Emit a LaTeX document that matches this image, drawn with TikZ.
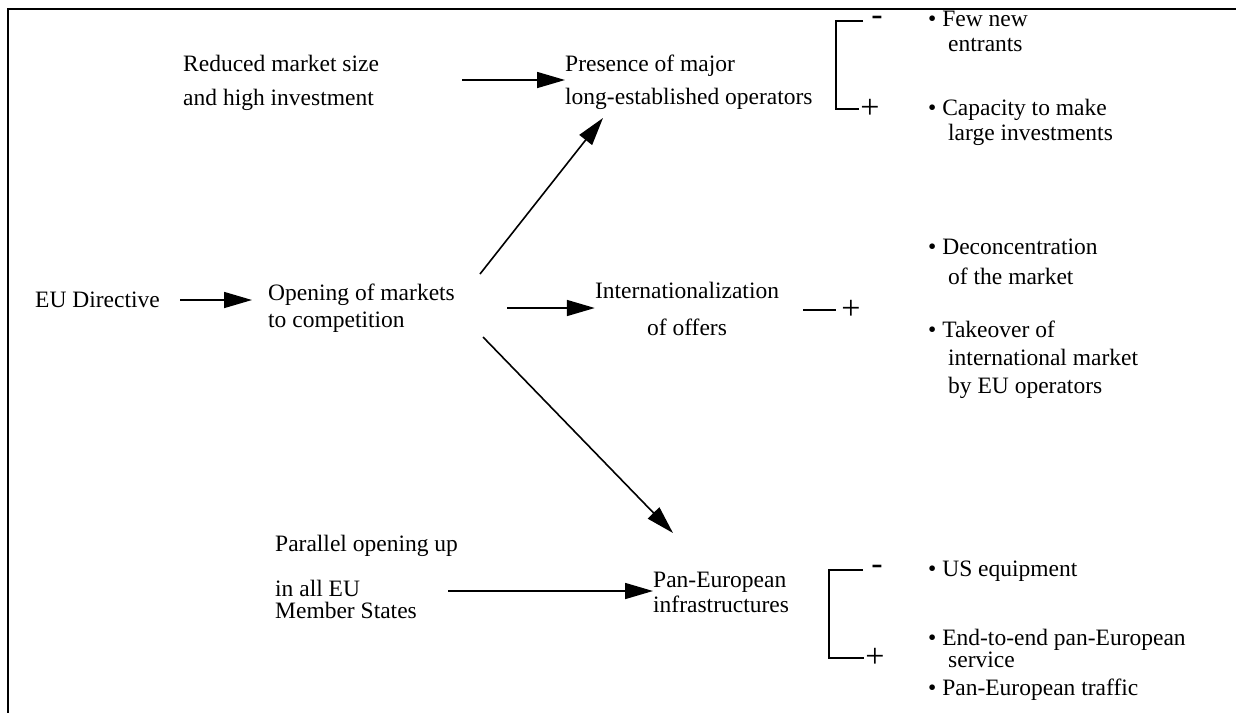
\documentclass[tikz,border=0pt]{standalone}
\usepackage{fontspec}
\setmainfont{Liberation Serif}
\usetikzlibrary{arrows.meta}
\begin{document}
\begin{tikzpicture}[x=1pt,y=-1pt,
  txt/.style={inner sep=0pt, anchor=base west, font=\fontsize{23.5}{28}\selectfont},
  ctxt/.style={txt, anchor=base},
  sign/.style={inner sep=0pt, font=\fontsize{34}{34}\selectfont},
  arr/.style={line width=1.6pt, -{Triangle[length=28pt,width=16pt]}},
  link/.style={line width=1.6pt},
  frame/.style={line width=2pt}]
\useasboundingbox (0,0) rectangle (1236,713);
% open frame: top and left rules
\draw[frame] (1236,9) -- (8,9) -- (8,713);

% --- upper row
\node[txt] (rm1) at (183,71) {Reduced market size};
\node[txt] (rm2) at (183,105) {and high investment};
\node[txt] (pr1) at (565,71) {Presence of major};
\node[txt] (pr2) at (565,104) {long-established operators};
\coordinate (a1s) at (462,80);
\draw[arr] (a1s) -- (a1s -| pr1.west);

% upper bracket
\node[sign] (tbm) at (877,21) {-};
\node[sign] (tbp) at (870,109) {+};
\coordinate (tbt) at (836,21);
\coordinate (tbb) at (836,109);
\draw[link] ([xshift=-8pt]tbm.west) -- (tbt) -- (tbb) -- ([xshift=-1pt]tbp.west |- tbb);

\node[txt] (fn1) at (928,26) {• Few new};
\node[txt] (fn2) at (948,51) {entrants};
\node[txt] (cp1) at (928,115) {• Capacity to make};
\node[txt] (cp2) at (948,140) {large investments};

% --- middle row
\node[txt] (eu) at (35,307) {EU Directive};
\node[txt] (op1) at (268,300) {Opening of markets};
\node[txt] (op2) at (268,327) {to competition};
\coordinate (a2s) at (180,300);
\draw[arr] (a2s) -- ([xshift=-16pt]a2s -| op1.west);

\coordinate (a3s) at (480,274);
\coordinate (a3e) at (603,118);
\draw[arr] (a3s) -- (a3e);

\node[ctxt] (in1) at (687,298) {Internationalization};
\node[ctxt] (in2) at (687,335) {of offers};
\coordinate (a4s) at (507,308);
\draw[arr] (a4s) -- (a4s -| in1.west);

\node[sign] (mp) at (851,310) {+};
\draw[link] (803,310) -- ([xshift=-5pt]mp.west);

\node[txt] (dc1) at (928,254) {• Deconcentration};
\node[txt] (dc2) at (948,284) {of the market};
\node[txt] (tk1) at (928,337) {• Takeover of};
\node[txt] (tk2) at (948,365) {international market};
\node[txt] (tk3) at (948,393) {by EU operators};

% --- lower row
\coordinate (a5s) at (483,337);
\coordinate (a5e) at (673,533);
\draw[arr] (a5s) -- (a5e);

\node[txt] (pa1) at (275,551) {Parallel opening up};
\node[txt] (pa2) at (275,596) {in all EU};
\node[txt] (pa3) at (275,618) {Member States};
\node[txt] (pe1) at (653,587) {Pan-European};
\node[txt] (pe2) at (653,612) {infrastructures};
\coordinate (a6s) at (448,591);
\draw[arr] (a6s) -- (a6s -| pe1.west);

% lower bracket
\node[sign] (bbm) at (877,570) {-};
\node[sign] (bbp) at (875,658) {+};
\coordinate (bbt) at (829,570);
\coordinate (bbb) at (829,658);
\draw[link] ([xshift=-8pt]bbm.west) -- (bbt) -- (bbb) -- ([xshift=-1pt]bbp.west |- bbb);

\node[txt] (us) at (928,576) {• US equipment};
\node[txt] (ee1) at (928,645) {• End-to-end pan-European};
\node[txt] (ee2) at (948,667) {service};
\node[txt] (tr) at (928,695) {• Pan-European traffic};
\end{tikzpicture}
\end{document}
